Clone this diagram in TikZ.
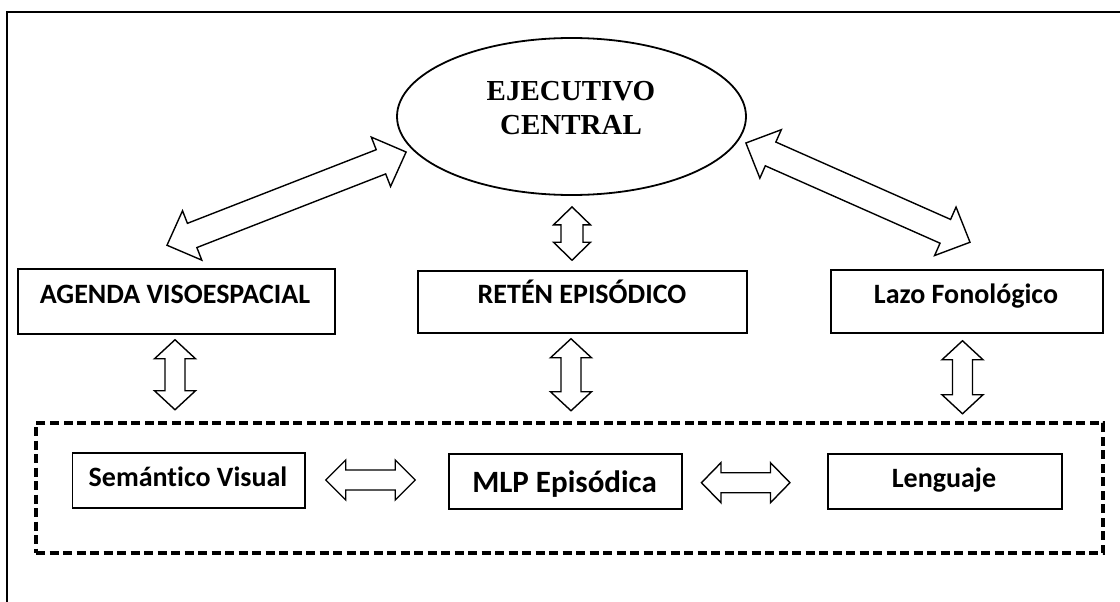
\documentclass[tikz,border=0pt]{standalone}
\usepackage{fontspec}
\setmainfont{Liberation Serif}
\newfontfamily\boxfont{Carlito}[Ligatures=NoCommon]
\usetikzlibrary{shapes.geometric,calc}

\tikzset{
  box/.style={draw, line width=1.5pt, rectangle, inner sep=0pt},
  lbl/.style={font=\boxfont\bfseries\fontsize{28}{32}\selectfont, anchor=base, inner sep=0pt},
  biglbl/.style={font=\boxfont\bfseries\fontsize{31}{35}\selectfont, anchor=base, inner sep=0pt},
  execlbl/.style={font=\bfseries\fontsize{29}{32}\selectfont, anchor=base, inner sep=0pt},
  blockarrow/.style={draw, line width=1.4pt, fill=white, line join=miter},
  groupbox/.style={draw, rectangle, line width=3.3pt, dash pattern=on 9pt off 4.5pt, inner sep=0pt},
}

% open double-headed block arrow between two tips:
% #1,#2 tips, #3 half shaft width, #4 half head width, #5 head length
\newcommand\dblarrow[5]{%
  \draw[blockarrow] (#1)
    -- ($(#1)!#5!(#2)!#4!90:(#2)$)
    -- ($(#1)!#5!(#2)!#3!90:(#2)$)
    -- ($(#2)!#5!(#1)!#3!-90:(#1)$)
    -- ($(#2)!#5!(#1)!#4!-90:(#1)$)
    -- (#2)
    -- ($(#2)!#5!(#1)!#4!90:(#1)$)
    -- ($(#2)!#5!(#1)!#3!90:(#1)$)
    -- ($(#1)!#5!(#2)!#3!-90:(#2)$)
    -- ($(#1)!#5!(#2)!#4!-90:(#2)$)
    -- cycle;}

\begin{document}
\begin{tikzpicture}[x=1pt,y=-1pt]
\useasboundingbox (0,0) rectangle (1120,602);

% frame
\draw[line width=2pt] (7,602) -- (7,12) -- (1120,12);

% central executive
\node[draw, ellipse, line width=1.8pt, minimum width=349pt, minimum height=157pt, inner sep=0pt]
  (exec) at (571.5,116.5) {};
\node[execlbl] (exec-l1) at (571,101) {EJECUTIVO};
\node[execlbl] (exec-l2) at (571,135) {CENTRAL};

% slave systems
\node[box, minimum width=317pt, minimum height=65pt] (agenda) at (176.5,301.5) {};
\node[lbl] (agenda-l) at (175,303) {AGENDA VISOESPACIAL};
\node[box, minimum width=329pt, minimum height=62pt] (reten) at (582.5,302) {};
\node[lbl] (reten-l) at (582,303) {RETÉN EPISÓDICO};
\node[box, minimum width=272pt, minimum height=63pt] (lazo) at (967,301.5) {};
\node[lbl] (lazo-l) at (966,303) {Lazo Fonológico};

% long-term memory group
\node[groupbox, minimum width=1067pt, minimum height=130pt] (ltm) at (569.5,488) {};
\node[box, minimum width=232.5pt, minimum height=55pt] (sem) at (188.75,480.5) {};
\node[lbl] (sem-l) at (188,486) {Semántico Visual};
\node[box, minimum width=233pt, minimum height=55pt] (mlp) at (565.5,481.5) {};
\node[biglbl] (mlp-l) at (564.5,492) {MLP Episódica};
\node[box, minimum width=234pt, minimum height=55pt] (leng) at (945,481.5) {};
\node[lbl] (leng-l) at (944,487) {Lenguaje};

% arrow tips
\coordinate (eL) at ($(exec.west)+(10,35.5)$);
\coordinate (aN) at ($(agenda.north)+(-9.5,-23)$);
\coordinate (eR) at ($(exec.east)+(-1,26.5)$);
\coordinate (lN) at ($(lazo.north)+(3,-27)$);
\coordinate (eS) at ($(exec.south)+(0.5,11)$);
\coordinate (rN) at ($(exec.south |- reten.north)+(0.5,-10)$);
\coordinate (aS) at ($(agenda.south)+(-1.5,5)$);
\coordinate (sN) at ($(agenda.south)+(-1.5,75)$);
\coordinate (rS) at ($(reten.south)+(-11.5,5)$);
\coordinate (mN) at ($(reten.south)+(-11.5,77)$);
\coordinate (lS) at ($(lazo.south)+(-4.5,7)$);
\coordinate (gN) at ($(lazo.south)+(-4.5,80)$);
\coordinate (sE) at ($(sem.east)+(20,-0.5)$);
\coordinate (mW) at ($(mlp.west)+(-33,-1.5)$);
\coordinate (mE) at ($(mlp.east)+(18.7,1.2)$);
\coordinate (gW) at ($(leng.west)+(-37.3,1.2)$);

% connectors
\dblarrow{eL}{aN}{13pt}{26.5pt}{27pt}
\dblarrow{eR}{lN}{13pt}{26.5pt}{27pt}
\dblarrow{eS}{rN}{11pt}{18.5pt}{18pt}
\dblarrow{aS}{sN}{10pt}{20.5pt}{19pt}
\dblarrow{rS}{mN}{10pt}{20.5pt}{19pt}
\dblarrow{lS}{gN}{10pt}{20.5pt}{19pt}
\dblarrow{sE}{mW}{10pt}{20pt}{20pt}
\dblarrow{mE}{gW}{10pt}{20pt}{19.5pt}
\end{tikzpicture}
\end{document}
